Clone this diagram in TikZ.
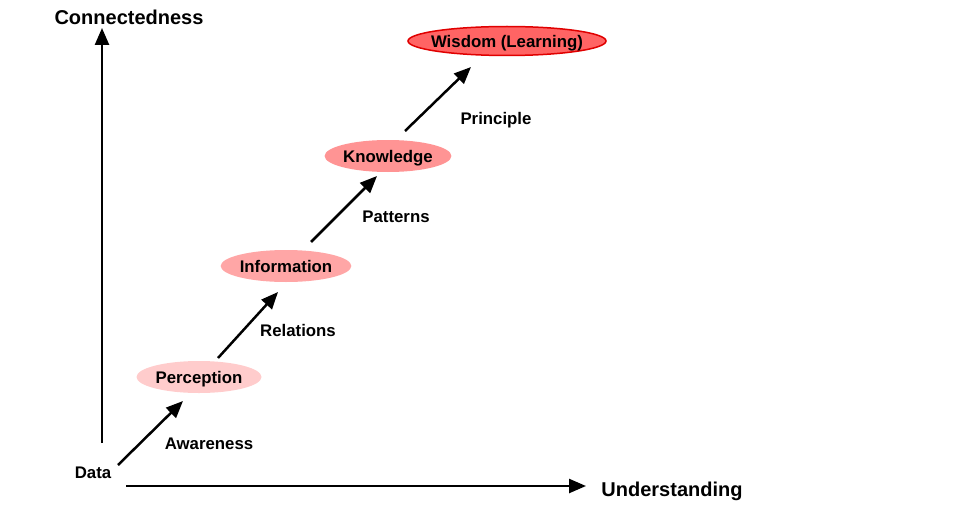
\documentclass[tikz,border=0pt]{standalone}
\usepackage{fontspec}
\setmainfont{Liberation Sans}
\usetikzlibrary{arrows.meta,shapes.geometric}
\definecolor{wisfill}{HTML}{FF6464}
\definecolor{wisdraw}{HTML}{E00000}
\definecolor{knofill}{HTML}{FF9494}
\definecolor{inffill}{HTML}{FFA6A6}
\definecolor{perfill}{HTML}{FFCCCC}
\begin{document}
\begin{tikzpicture}[x=1pt,y=-1pt,
  lbl/.style={font=\fontsize{16.8}{19}\selectfont\bfseries, inner sep=0pt, text depth=0pt},
  axlbl/.style={font=\fontsize{20}{23}\selectfont\bfseries, inner sep=0pt, text depth=0pt},
  stage/.style={ellipse, inner sep=0pt, minimum height=32pt, text depth=0pt, font=\fontsize{16.8}{19}\selectfont\bfseries},
  arr/.style={line width=2.5pt, -{Triangle[length=17pt,width=14pt]}}]
\useasboundingbox (0,0) rectangle (957,508);
\node[axlbl] (conn) at (129,17) {Connectedness};
\node[axlbl] (und) at (672,489) {Understanding};
\node[lbl] (data) at (93,473) {Data};
\node[stage, fill=wisfill, draw=wisdraw, line width=1.5pt, minimum width=198pt, minimum height=29pt] (wis) at (507,41) {};
\node[lbl] (wist) at (wis.center) {Wisdom (Learning)};
\node[stage, fill=knofill, minimum width=125pt] (kno) at (388,156) {Knowledge};
\node[stage, fill=inffill, minimum width=128pt] (inf) at (286,266) {Information};
\node[stage, fill=perfill, minimum width=125pt] (per) at (199,377) {Perception};
\node[lbl] (aw) at (209,444) {Awareness};
\node[lbl] (rel) at (298,330) {Relations};
\node[lbl] (pat) at (396,217) {Patterns};
\node[lbl] (pri) at (496,118) {Principle};
\coordinate (v0) at (102,443);
\coordinate (v1) at (102,28);
\coordinate (h0) at (126,486);
\coordinate (h1) at (586,486);
\coordinate (a0) at (118,465);
\coordinate (a1) at (183,401);
\coordinate (b0) at (218,358);
\coordinate (b1) at (278,292);
\coordinate (c0) at (311,242);
\coordinate (c1) at (377,176);
\coordinate (d0) at (405,131);
\coordinate (d1) at (471,67);
\draw[arr] (v0) -- (v1);
\draw[arr] (h0) -- (h1);
\draw[arr] (a0) -- (a1);
\draw[arr] (b0) -- (b1);
\draw[arr] (c0) -- (c1);
\draw[arr] (d0) -- (d1);
\end{tikzpicture}
\end{document}
